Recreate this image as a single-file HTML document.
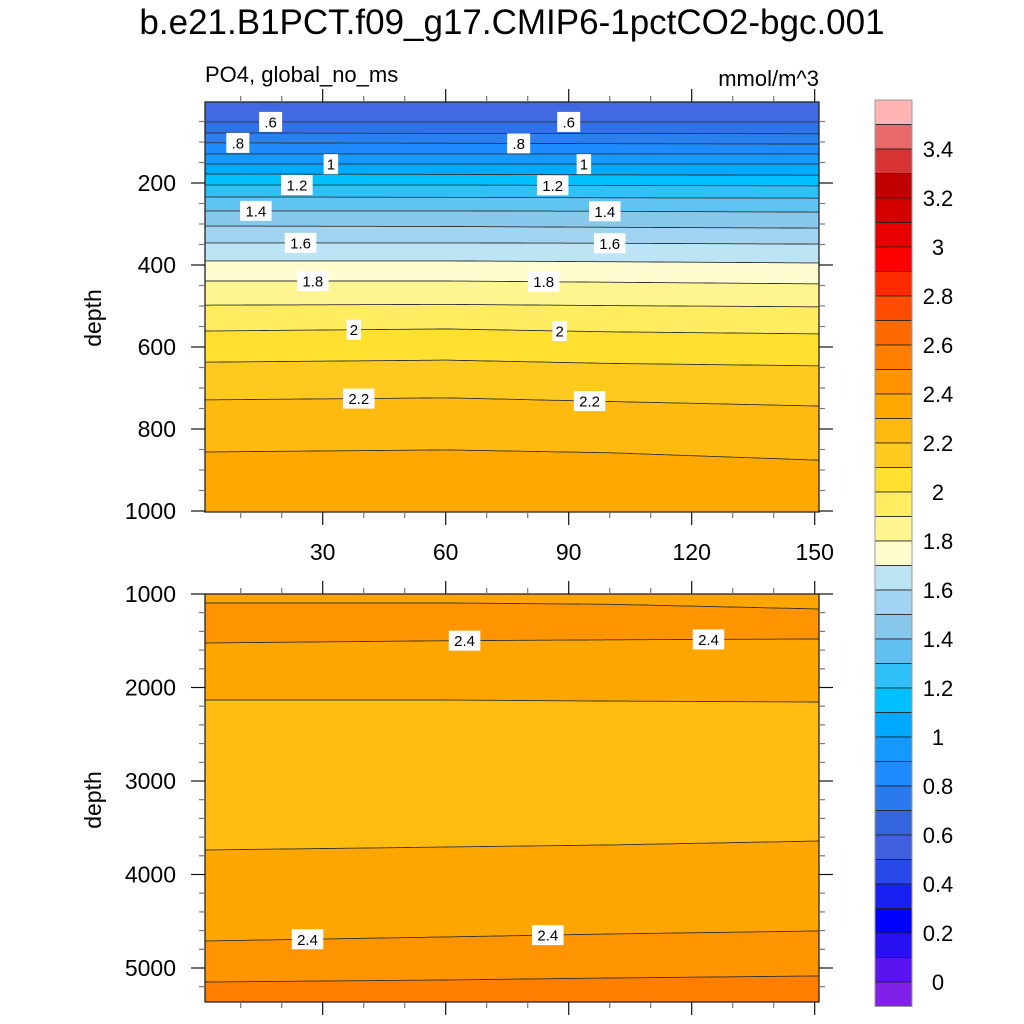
<!DOCTYPE html>
<html><head><meta charset="utf-8"><title>PO4 depth-time</title>
<style>html,body{margin:0;padding:0;background:#fff}svg{display:block}text{font-family:"Liberation Sans",Arial,sans-serif}</style>
</head><body>
<svg id="chart" width="1024" height="1024" viewBox="0 0 1024 1024" xmlns="http://www.w3.org/2000/svg">
<text x="512" y="34" font-size="35" text-anchor="middle">b.e21.B1PCT.f09_g17.CMIP6-1pctCO2-bgc.001</text>
<text x="205" y="82" font-size="22">PO4, global_no_ms</text>
<text x="819" y="86" font-size="22" text-anchor="end">mmol/m^3</text>
<text transform="translate(101,318) rotate(-90)" font-size="23" text-anchor="middle">depth</text>
<text transform="translate(101,800) rotate(-90)" font-size="23" text-anchor="middle">depth</text>
<g id="top"></g>
<g id="bot"></g>
<g id="cbar"></g>
</svg>
<script>
// ---- data ----
const years = [1, 60, 100, 151];
const topLevels = ["0.6","0.7","0.8","0.9","1.0","1.1","1.2","1.3","1.4","1.5","1.6","1.7","1.8","1.9","2.0","2.1","2.2","2.3"];
const topDepths = [
 [51,51,51,51],[78,79,79,80],[102,103,104,105],[129,129,129,129],[154,154,154,154],
 [178,179,180,181],[205,205,206,207],[234,235,236,237],[268,268,269,271],[305,306,308,310],
 [346,346,347,349],[390,390,392,395],[439,439,442,446],[498,496,499,502],[561,556,563,568],
 [637,632,640,646],[729,724,733,744],[856,851,858,876]];
const topColors = ["#4169E1","#3070E8","#2A80F0","#1E8CFF","#1499FF","#00AAFF","#00C0FF","#30C0F8","#60C4F2","#88C8EC","#A0D4F0","#BCE4F4","#FFFDD0","#FFF590","#FFEC60","#FFE030","#FFCA20","#FFBA10","#FFA800"];
const topLabels = [["0.6",17.3,".6"],["0.6",90,".6"],["0.8",9.3,".8"],["0.8",77.8,".8"],["1.0",32,"1"],["1.0",93.7,"1"],
 ["1.2",23.7,"1.2"],["1.2",86.1,"1.2"],["1.4",13.7,"1.4"],["1.4",98.8,"1.4"],["1.6",24.6,"1.6"],["1.6",100,"1.6"],
 ["1.8",27.6,"1.8"],["1.8",83.9,"1.8"],["2.0",37.6,"2"],["2.0",87.8,"2"],["2.2",38.8,"2.2"],["2.2",95.1,"2.2"]];
const botDepths = [[1096,1096,1110,1160],[1524,1500,1490,1481],[2134,2134,2145,2155],[3738,3706,3684,3642],[4711,4668,4636,4604],[5150,5128,5107,5085]];
const botColors = ["#FEA600","#FE9400","#FEA600","#FEBC10","#FEA600","#FE9400","#FE7E00"];
const botLabels = [[1,64.6,"2.4"],[1,124.1,"2.4"],[4,26.3,"2.4"],[4,84.9,"2.4"]];
const xTicks = [30,60,90,120,150];
const topYTicks = [200,400,600,800,1000];
const botYTicks = [1000,2000,3000,4000,5000];
const cbarColors = ["#FFB3B3","#E86A6A","#D83434","#C00000","#D40000","#E80000","#FF0000","#FF2A00","#FF4C00","#FF6A00","#FF7E00","#FF9400","#FFA800","#FFBA10","#FFCA20","#FFE030","#FFEC60","#FFF590","#FFFDD0","#BCE4F4","#A0D4F0","#88C8EC","#60C0F0","#30C0F8","#00C0FF","#00AAFF","#1499FF","#1E8CFF","#2A7AEE","#3366DD","#4060E0","#2848E8","#1820F0","#0000FF","#2810F0","#5A14F0","#8020E8"];
const cbarLabels = ["3.4","3.2","3","2.8","2.6","2.4","2.2","2","1.8","1.6","1.4","1.2","1","0.8","0.6","0.4","0.2","0"];

// ---- helpers ----
const NS="http://www.w3.org/2000/svg";
function mk(tag, attrs, parent){const e=document.createElementNS(NS,tag);for(const k in attrs)e.setAttribute(k,attrs[k]);parent.appendChild(e);return e;}
const X0=205, X1=819;
const xs = y => 199.7 + y*4.1;
function interp(arr, yr){for(let i=0;i<years.length-1;i++){if(yr<=years[i+1]){const t=(yr-years[i])/(years[i+1]-years[i]);return arr[i]+t*(arr[i+1]-arr[i]);}}return arr[arr.length-1];}

function panel(g, top, bot, ys, depths, colors, labels, levelIdx, yTicks, minorStep, dmin, dmax, showXLabels){
  mk('rect',{x:X0,y:top,width:X1-X0,height:bot-top,fill:colors[0]},g);
  depths.forEach((d,i)=>{
    let pts=[];
    for(let yr=1.2;yr<=152.2;yr+=1){pts.push([Math.max(X0,Math.min(X1,xs(yr))),ys(interp(d,yr))]);}
    const poly=pts.map(p=>p[0].toFixed(1)+','+p[1].toFixed(1)).join(' ');
    const b=mk('polygon',{points:poly+` ${X1},${bot} ${X0},${bot}`,fill:colors[i+1]},g);
    
    
    const l=mk('polyline',{points:poly,fill:'none',stroke:'#333','stroke-width':0.9},g);
    
    
  });
  labels.forEach(lb=>{
    const idx=levelIdx(lb[0]);const cx=xs(lb[1]), cy=ys(interp(depths[idx],lb[1]));
    const w=lb[2].length*8.5+6;
    const r=mk('rect',{x:cx-w/2,y:cy-10,width:w,height:20,fill:'#fff'},g);
    
    
    const t=mk('text',{x:cx,y:cy+5.5,'font-size':15,'text-anchor':'middle'},g);t.textContent=lb[2];
    
    
  });
  mk('rect',{x:X0,y:top,width:X1-X0,height:bot-top,fill:'none',stroke:'#222','stroke-width':1.3},g);
  for(let v=dmin;v<=dmax;v+=minorStep){const y=ys(v);if(y<top-0.5||y>bot+0.5)continue;
    const major=yTicks.includes(v);const L=major?14:6;
    const t1=mk('line',{x1:X0-L,x2:X0,y1:y,y2:y,stroke:major?'#111':'#777','stroke-width':1.2},g);
    
    const t2=mk('line',{x1:X1,x2:X1+L,y1:y,y2:y,stroke:major?'#111':'#777','stroke-width':1.2},g);
    
    if(major){const t=mk('text',{x:X0-29,y:y+8,'font-size':23,'text-anchor':'end'},g);t.textContent=v;
      
      }
  }
  for(let yr=10;yr<=150;yr+=10){const x=xs(yr);const major=xTicks.includes(yr);const L=major?13:6;
    const a=mk('line',{x1:x,x2:x,y1:bot,y2:bot+L,stroke:major?'#111':'#777','stroke-width':1.2},g);
    
    const b=mk('line',{x1:x,x2:x,y1:top-L,y2:top,stroke:major?'#111':'#777','stroke-width':1.2},g);
    
    if(major&&showXLabels){const t=mk('text',{x:x,y:bot+48,'font-size':23,'text-anchor':'middle'},g);t.textContent=yr;
      
      }
  }
}
const ysTop = d => 101 + d*82/200;
const ysBot = d => 594 + (d-1000)*93.5/1000;
panel(document.getElementById('top'),102,512,ysTop,topDepths,topColors,topLabels,lv=>topLevels.indexOf(lv),topYTicks,50,0,1000,true);
panel(document.getElementById('bot'),594,1002,ysBot,botDepths,botColors,botLabels,i=>i,botYTicks,200,1000,5400,false);

// colorbar
const cb=document.getElementById('cbar');const CB0=100, CBH=24.5;
cbarColors.forEach((c,i)=>{const r=mk('rect',{x:875,y:CB0+i*CBH,width:37,height:CBH,fill:c,stroke:'#222','stroke-width':0.8},cb);
  
  });
mk('rect',{x:875,y:CB0,width:37,height:CBH*cbarColors.length,fill:'none',stroke:'#999','stroke-width':1},cb);
cbarLabels.forEach((s,i)=>{const t=mk('text',{x:938,y:CB0+(2+2*i)*CBH+8,'font-size':22,'text-anchor':'middle'},cb);t.textContent=s;
  
  });
</script>
</body></html>
